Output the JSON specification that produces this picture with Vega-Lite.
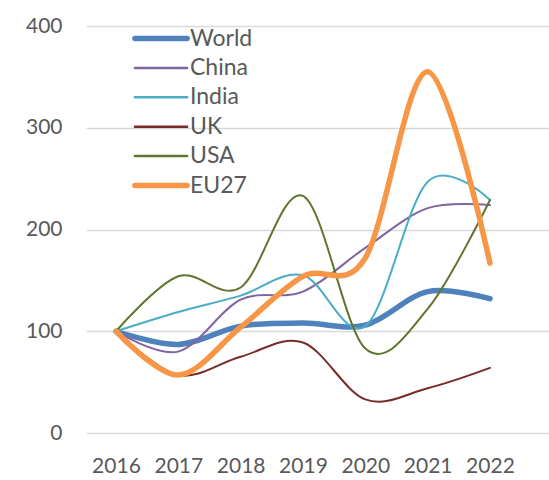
{
  "$schema": "https://vega.github.io/schema/vega-lite/v6.json",
  "autosize": "none",
  "width": 463,
  "height": 407,
  "padding": {"left": 86, "top": 26, "right": 0, "bottom": 47},
  "background": "white",
  "config": {
    "view": {"stroke": null},
    "font": "Lato",
    "axis": {"labelFont": "Lato", "labelFontSize": 21, "labelColor": "#595959"},
    "legend": {"labelFont": "Lato", "labelFontSize": 23, "labelColor": "#595959"}
  },
  "data": {
    "values": [
      {"year": 2016, "series": "World", "value": 100},
      {"year": 2017, "series": "World", "value": 87},
      {"year": 2018, "series": "World", "value": 105},
      {"year": 2019, "series": "World", "value": 108},
      {"year": 2020, "series": "World", "value": 106},
      {"year": 2021, "series": "World", "value": 139},
      {"year": 2022, "series": "World", "value": 132},
      {"year": 2016, "series": "China", "value": 100},
      {"year": 2017, "series": "China", "value": 80},
      {"year": 2018, "series": "China", "value": 131},
      {"year": 2019, "series": "China", "value": 139},
      {"year": 2020, "series": "China", "value": 182},
      {"year": 2021, "series": "China", "value": 221},
      {"year": 2022, "series": "China", "value": 224},
      {"year": 2016, "series": "India", "value": 100},
      {"year": 2017, "series": "India", "value": 119},
      {"year": 2018, "series": "India", "value": 135},
      {"year": 2019, "series": "India", "value": 155},
      {"year": 2020, "series": "India", "value": 105},
      {"year": 2021, "series": "India", "value": 247},
      {"year": 2022, "series": "India", "value": 229},
      {"year": 2016, "series": "UK", "value": 100},
      {"year": 2017, "series": "UK", "value": 57},
      {"year": 2018, "series": "UK", "value": 75},
      {"year": 2019, "series": "UK", "value": 89},
      {"year": 2020, "series": "UK", "value": 33},
      {"year": 2021, "series": "UK", "value": 44},
      {"year": 2022, "series": "UK", "value": 64},
      {"year": 2016, "series": "USA", "value": 100},
      {"year": 2017, "series": "USA", "value": 154},
      {"year": 2018, "series": "USA", "value": 143},
      {"year": 2019, "series": "USA", "value": 233},
      {"year": 2020, "series": "USA", "value": 83},
      {"year": 2021, "series": "USA", "value": 122},
      {"year": 2022, "series": "USA", "value": 229},
      {"year": 2016, "series": "EU27", "value": 100},
      {"year": 2017, "series": "EU27", "value": 57},
      {"year": 2018, "series": "EU27", "value": 104},
      {"year": 2019, "series": "EU27", "value": 154},
      {"year": 2020, "series": "EU27", "value": 172},
      {"year": 2021, "series": "EU27", "value": 355},
      {"year": 2022, "series": "EU27", "value": 167}
    ]
  },
  "mark": {"type": "line", "interpolate": "cardinal", "strokeCap": "round", "strokeJoin": "round"},
  "encoding": {
    "x": {
      "field": "year", "type": "quantitative",
      "scale": {"domain": [2015.519, 2022.947], "nice": false, "zero": false},
      "axis": {"title": null, "values": [2016, 2017, 2018, 2019, 2020, 2021, 2022], "format": "d", "domain": false, "ticks": false, "labelPadding": 22, "grid": false, "labelFlush": false, "labelOverlap": false}
    },
    "y": {
      "field": "value", "type": "quantitative",
      "scale": {"domain": [0, 400], "nice": false},
      "axis": {"title": null, "values": [0, 100, 200, 300, 400], "domain": false, "ticks": false, "labelPadding": 24, "gridColor": "#d9d9d9", "gridWidth": 1.5}
    },
    "color": {
      "field": "series", "type": "nominal",
      "scale": {
        "domain": ["World", "China", "India", "UK", "USA", "EU27"],
        "range": ["#4f81bd", "#8064a2", "#4bacc6", "#772c2a", "#5f7530", "#f79646"]
      },
      "legend": {
        "title": null, "orient": "none", "legendX": 63.5, "legendY": 1,
        "symbolType": "M-1.8,0H1.8", "symbolSize": 841, "rowPadding": 5.4, "labelOffset": 17.5,
        "labelExpr": "datum.label === 'World' ? '\u00a0\u00a0World' : datum.label",
        "encode": {
          "symbols": {
            "update": {
              "strokeWidth": {"signal": "datum.value === 'World' || datum.value === 'EU27' ? 5.5 : 2.5"},
              "strokeCap": {"value": "round"}
            }
          }
        }
      }
    },
    "strokeWidth": {
      "condition": {"test": "datum.series === 'World' || datum.series === 'EU27'", "value": 5.5},
      "value": 2
    }
  }
}
